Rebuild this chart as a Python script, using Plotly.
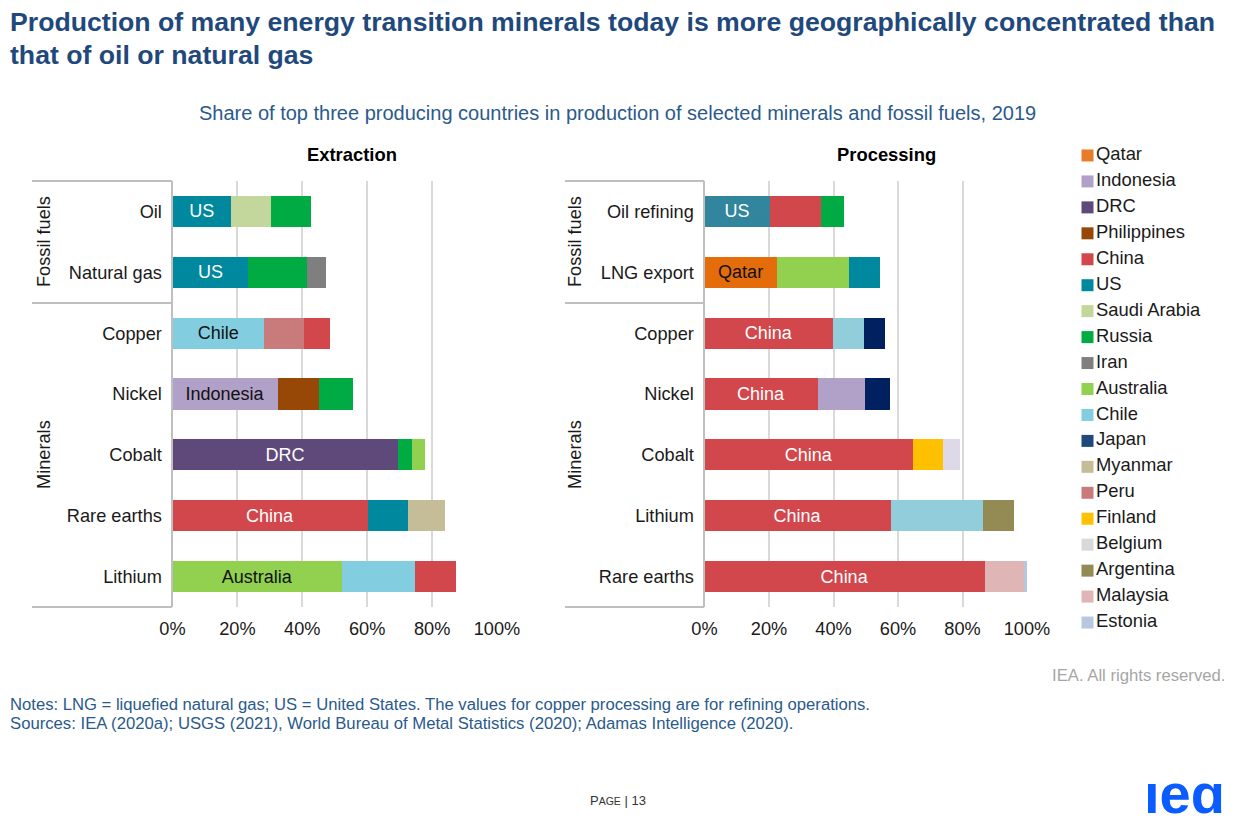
import plotly.graph_objects as go

W, H = 1240, 826

# values, share of world production in %
ext_cats = ["Oil", "Natural gas", "Copper", "Nickel", "Cobalt", "Rare earths", "Lithium"]
ext_first = [18.0, 23.4, 28.2, 32.4, 69.4, 60.1, 52.2]
ext_second = [12.4, 18.1, 12.2, 12.6, 4.5, 12.5, 22.6]
ext_third = [12.2, 5.7, 8.1, 10.6, 3.9, 11.3, 12.5]
ext_first_who = ["US", "US", "Chile", "Indonesia", "DRC", "China", "Australia"]
ext_second_who = ["Saudi Arabia", "Russia", "Peru", "Philippines", "Russia", "US", "Chile"]
ext_third_who = ["Russia", "Iran", "China", "Russia", "Australia", "Myanmar", "China"]

proc_cats = ["Oil refining", "LNG export", "Copper", "Nickel", "Cobalt", "Lithium", "Rare earths"]
proc_first = [20.2, 22.4, 39.9, 35.1, 64.6, 57.7, 86.9]
proc_second = [15.9, 22.3, 9.7, 14.7, 9.5, 28.6, 12.1]
proc_third = [7.0, 9.6, 6.3, 7.7, 5.1, 9.8, 1.0]
proc_first_who = ["US", "Qatar", "China", "China", "China", "China", "China"]
proc_second_who = ["China", "Australia", "Chile", "Indonesia", "Finland", "Chile", "Malaysia"]
proc_third_who = ["Russia", "US", "Japan", "Japan", "Belgium", "Argentina", "Estonia"]

countries = ["Qatar", "Indonesia", "DRC", "Philippines", "China", "US", "Saudi Arabia", "Russia", "Iran",
             "Australia", "Chile", "Japan", "Myanmar", "Peru", "Finland", "Belgium", "Argentina",
             "Malaysia", "Estonia"]

COLOURS = {
    "Qatar": "#E97C2B", "Indonesia": "#B1A0C7", "DRC": "#5F497A", "Philippines": "#974806",
    "China": "#D2474C", "US": "#00889F", "Saudi Arabia": "#C3D69B", "Russia": "#00AB44",
    "Iran": "#7F7F7F", "Australia": "#92D050", "Chile": "#83CDE1", "Japan": "#1F497D",
    "Myanmar": "#C4BD97", "Peru": "#C97B7B", "Finland": "#FFC000", "Belgium": "#D9D9D9",
    "Argentina": "#948A54", "Malaysia": "#E0B5B5", "Estonia": "#B8C7E0",
}
# the processing panel uses slightly different shades from its key
PROC_COLOURS = {**COLOURS, "Qatar": "#E46C0A", "Japan": "#002060", "Belgium": "#DDD9E8", "Chile": "#92CDDC"}
LIGHT_BARS = {"Chile", "Indonesia", "Australia", "Qatar"}

BLUE = "#1F497D"
TEXT = "#1A1A1A"
FONT = "Liberation Sans"
GREY = "#BFBFBF"


def fx(px):
    return px / W


def fy(px):
    return 1 - px / H


def add_stack(fig, cats, shares, who, palette, xaxis, yaxis):
    for rank, (vals, names) in enumerate(zip(shares, who)):
        colours = [palette[n] for n in names]
        # US bar of oil refining is a touch greyer than the other US bars
        if cats[0] == "Oil refining" and rank == 0:
            colours[0] = "#31859C"
        trace = dict(x=vals, y=cats, orientation="h", xaxis=xaxis, yaxis=yaxis,
                     marker=dict(color=colours, line=dict(width=0)),
                     customdata=names, hovertemplate="%{y}, %{customdata}: %{x}%<extra></extra>",
                     showlegend=False)
        # only the leading producer is named on the bar
        if rank == 0:
            trace.update(text=names, textposition="inside", insidetextanchor="middle", textangle=0,
                         insidetextfont=dict(size=18, family=FONT,
                                             color=["#111111" if n in LIGHT_BARS else "white" for n in names]))
        fig.add_trace(go.Bar(**trace))


fig = go.Figure()
add_stack(fig, ext_cats, [ext_first, ext_second, ext_third],
          [ext_first_who, ext_second_who, ext_third_who], COLOURS, "x", "y")
add_stack(fig, proc_cats, [proc_first, proc_second, proc_third],
          [proc_first_who, proc_second_who, proc_third_who], PROC_COLOURS, "x2", "y2")

# colour key, laid out in its own little axes so the swatch sits tight against the name
fig.add_trace(go.Scatter(x=[0] * len(countries), y=countries, text=countries, mode="markers+text",
                         textposition="middle right", cliponaxis=False, xaxis="x3", yaxis="y3",
                         textfont=dict(size=18.4, family=FONT, color=TEXT),
                         marker=dict(symbol="square", size=12, color=[COLOURS[c] for c in countries]),
                         hoverinfo="skip", showlegend=False))

PLOT_TOP, PLOT_BOTTOM = 181, 607
x_axis = dict(range=[0, 100], tickvals=[0, 20, 40, 60, 80, 100], ticktext=["0%", "20%", "40%", "60%", "80%", "100%"],
              showgrid=True, gridcolor="#D9D9D9", gridwidth=1.5, zeroline=False, showline=False, automargin=False,
              ticks="", ticklabelstandoff=9, tickfont=dict(size=18.2, family=FONT, color=TEXT), fixedrange=True)
y_axis = dict(autorange="reversed", showgrid=False, zeroline=False, showline=True, linecolor=GREY, linewidth=2,
              automargin=False, ticks="", ticklabelstandoff=5, tickfont=dict(size=18.2, family=FONT, color=TEXT),
              fixedrange=True, domain=[fy(PLOT_BOTTOM), fy(PLOT_TOP)])

fig.update_layout(
    width=W, height=H, margin=dict(l=0, r=0, t=0, b=0), autosize=False,
    paper_bgcolor="white", plot_bgcolor="white", barmode="stack", bargap=0.49,
    font=dict(family=FONT, color=TEXT, size=18), showlegend=False,
    xaxis=dict(x_axis, domain=[fx(172.5), fx(497)], anchor="y"),
    yaxis=dict(y_axis, categoryorder="array", categoryarray=ext_cats, anchor="x"),
    xaxis2=dict(x_axis, domain=[fx(704.5), fx(1027)], anchor="y2"),
    yaxis2=dict(y_axis, categoryorder="array", categoryarray=proc_cats, anchor="x2"),
    xaxis3=dict(range=[0, 1], domain=[fx(1087.5), fx(1235)], visible=False, anchor="y3", fixedrange=True),
    yaxis3=dict(range=[18.5, -0.5], domain=[fy(635.5), fy(142.5)], visible=False, anchor="x3", type="category",
                categoryorder="array", categoryarray=countries, fixedrange=True),
)


def note(text, x, y, size=18.2, color=TEXT, anchor="center", **kw):
    fig.add_annotation(text=text, x=fx(x), y=fy(y), xref="paper", yref="paper", showarrow=False,
                       xanchor=anchor, yanchor="middle", align="left", font=dict(size=size, family=FONT, color=color), **kw)


note("<b>Production of many energy transition minerals today is more geographically concentrated than</b>",
     8, 22, size=26.65, color=BLUE, anchor="left")
note("<b>that of oil or natural gas</b>", 8, 55, size=26.65, color=BLUE, anchor="left")
note("Share of top three producing countries in production of selected minerals and fossil fuels, 2019",
     617.5, 113, size=20, color="#2A5A8C")
note("<b>Extraction</b>", 352, 155, size=18.4, color="black")
note("<b>Processing</b>", 886, 155, size=18.4, color="black")

for left, right in ((32, 172), (565, 704)):
    for y in (181, 303, 607):
        fig.add_shape(type="line", xref="paper", yref="paper", x0=fx(left), x1=fx(right), y0=fy(y), y1=fy(y),
                      line=dict(color=GREY, width=2))
for x in (44, 575):
    note("Fossil fuels", x, 242, textangle=-90)
    note("Minerals", x, 455, textangle=-90)

note("IEA. All rights reserved.", 1227, 675, size=16.7, color="#A6A6A6", anchor="right")
note("Notes: LNG = liquefied natural gas; US = United States. The values for copper processing are for refining operations.",
     8, 704, size=16.65, color="#2A5A8C", anchor="left")
note("Sources: IEA (2020a); USGS (2021), World Bureau of Metal Statistics (2020); Adamas Intelligence (2020).",
     8, 723, size=16.7, color="#2A5A8C", anchor="left")
note("P<span style='font-size:10.5px'>AGE</span> | 13", 617.5, 800, size=13, color="#333333")
note("<b>ıeɑ</b>", 1227, 793, size=56, color="#0B5CFF", anchor="right")

# the default body margin would push the fixed-size figure off the page
fig.write_html("out.html", post_script="document.body.style.margin = '0';",
               config={"displayModeBar": False})
